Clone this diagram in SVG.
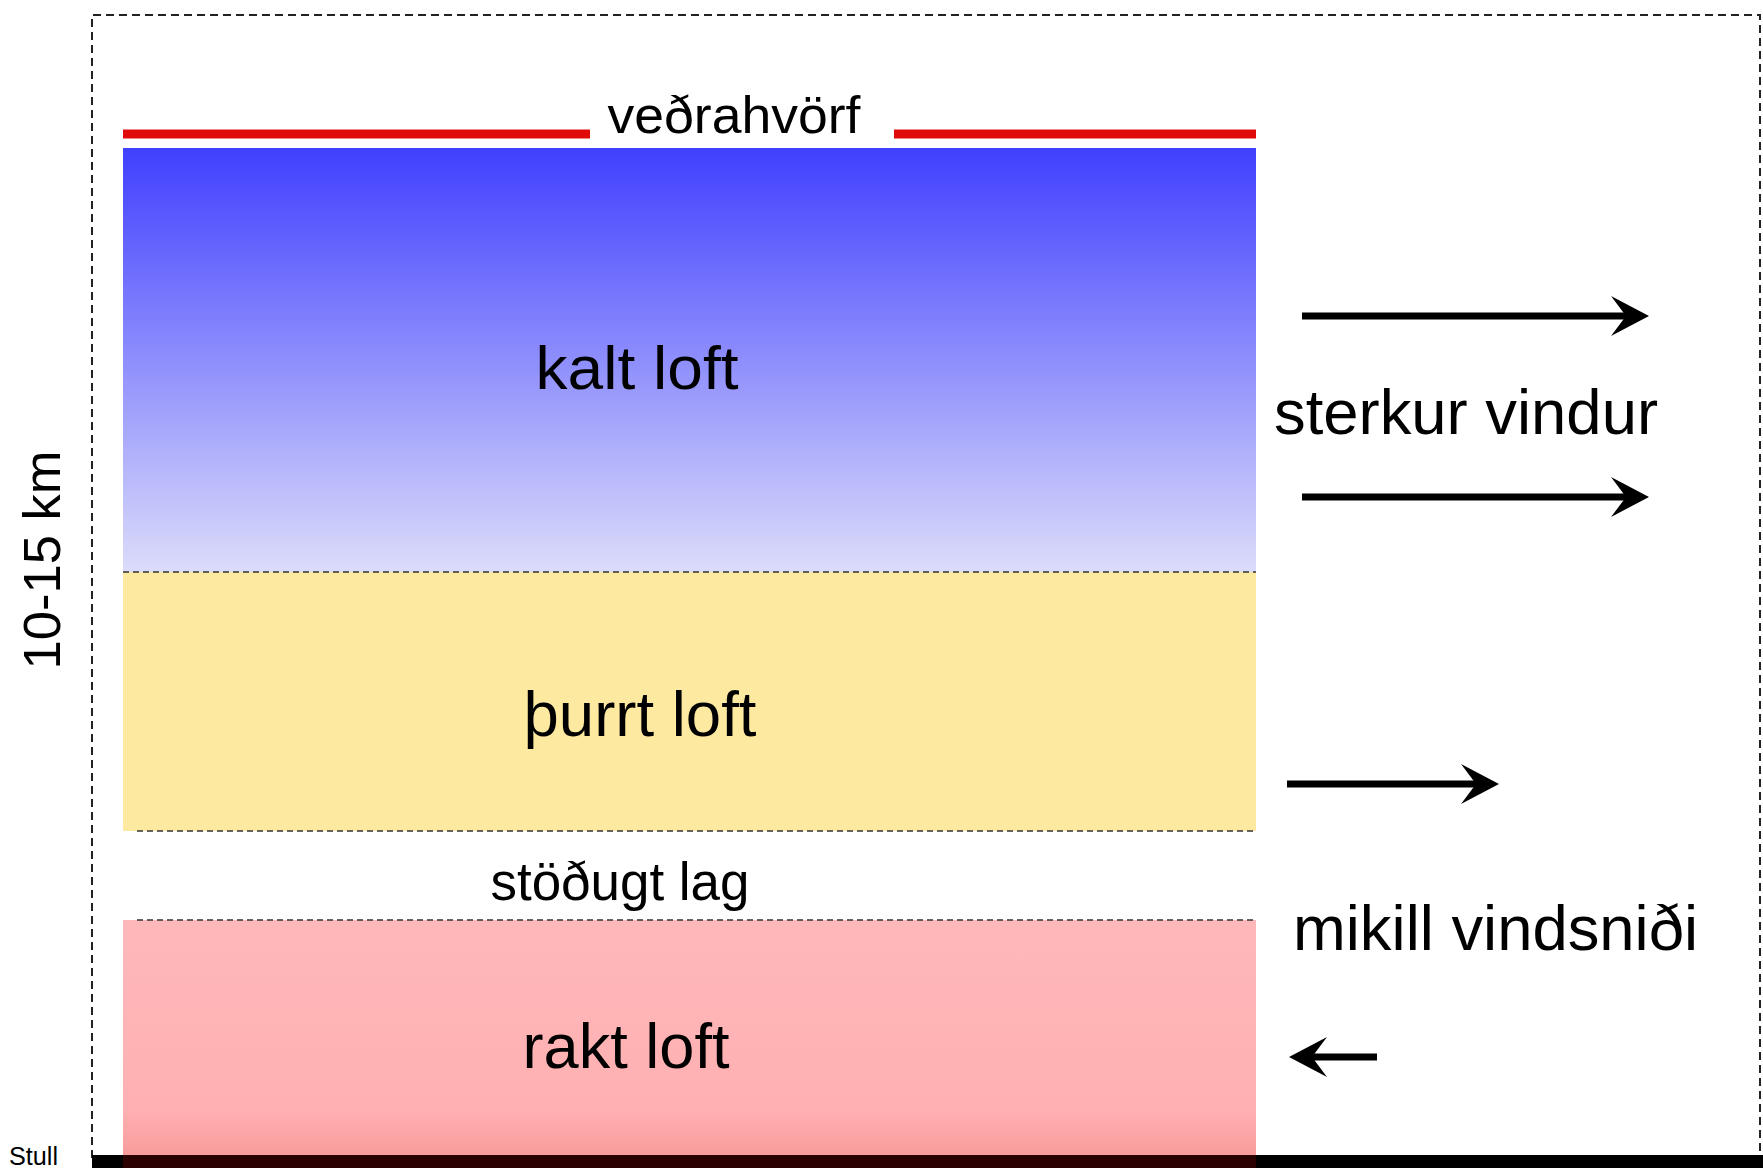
<svg xmlns="http://www.w3.org/2000/svg" width="1763" height="1168" viewBox="0 0 1763 1168">
<style>
text { font-family: "Liberation Sans", Arial, sans-serif; fill: #000; }
.frame { fill: none; stroke: #222; stroke-width: 2; stroke-dasharray: 8 5; }
.sep { fill: none; stroke: #333; stroke-width: 1.5; stroke-dasharray: 6 4; }
.shaft { stroke: #000; stroke-width: 7; fill: none; }
.head { fill: #000; }
.tropo { stroke: #e00a0a; stroke-width: 9; }
</style>
<defs>
<linearGradient id="gBlue" x1="0" y1="0" x2="0" y2="1">
<stop offset="0" stop-color="#4040ff"/>
<stop offset="1" stop-color="#dcdcfa"/>
</linearGradient>
<linearGradient id="gPink" x1="0" y1="0" x2="0" y2="1">
<stop offset="0" stop-color="#ffb8ba"/>
<stop offset="0.8" stop-color="#ffb0b2"/>
<stop offset="1" stop-color="#f89a9a"/>
</linearGradient>
</defs>
<rect width="1763" height="1168" fill="#fff"/>
<g id="frame">
<path class="frame" d="M92 1158 V15 H1760 V1158"/>
</g>
<g id="layer-cold">
<rect x="123" y="148" width="1133" height="424" fill="url(#gBlue)"/>
<text x="637" y="389" font-size="62" text-anchor="middle" textLength="203" lengthAdjust="spacingAndGlyphs">kalt loft</text>
</g>
<g id="layer-dry">
<rect x="123" y="572" width="1133" height="259" fill="#fde9a0"/>
<text x="640" y="736" font-size="63" text-anchor="middle" textLength="233" lengthAdjust="spacingAndGlyphs">þurrt loft</text>
</g>
<g id="layer-stable">
<text x="620" y="900" font-size="53" text-anchor="middle" textLength="259" lengthAdjust="spacingAndGlyphs">stöðugt lag</text>
</g>
<g id="layer-moist">
<rect x="123" y="920" width="1133" height="238" fill="url(#gPink)"/>
<text x="626" y="1068" font-size="63" text-anchor="middle" textLength="207" lengthAdjust="spacingAndGlyphs">rakt loft</text>
</g>
<g id="separators">
<line class="sep" x1="123" y1="572" x2="1256" y2="572"/>
<line class="sep" x1="137" y1="831" x2="1256" y2="831"/>
<line class="sep" x1="137" y1="920" x2="1256" y2="920"/>
</g>
<g id="tropopause">
<line class="tropo" x1="123" y1="134" x2="590" y2="134"/>
<line class="tropo" x1="894" y1="134" x2="1256" y2="134"/>
<text x="734" y="133" font-size="52" text-anchor="middle" textLength="253" lengthAdjust="spacingAndGlyphs">veðrahvörf</text>
</g>
<g id="ground">
<rect x="92" y="1155" width="1671" height="13" fill="#000"/>
<rect x="123" y="1155" width="1133" height="13" fill="#2a0000"/>
<text x="9" y="1165" font-size="25" textLength="49" lengthAdjust="spacingAndGlyphs">Stull</text>
</g>
<g id="height-label">
<text transform="translate(60 560) rotate(-90)" font-size="52" text-anchor="middle" textLength="219" lengthAdjust="spacingAndGlyphs">10-15 km</text>
</g>
<g id="wind-labels">
<text x="1274" y="434" font-size="63" textLength="384" lengthAdjust="spacingAndGlyphs">sterkur vindur</text>
<text x="1293" y="950" font-size="63" textLength="405" lengthAdjust="spacingAndGlyphs">mikill vindsniði</text>
</g>
<g id="connectors">
<g id="arrow1">
<line class="shaft" x1="1302" y1="316" x2="1630" y2="316"/>
<path class="head" d="M1649 316 L1611 296 L1626 316 L1611 336 Z"/>
</g>
<g id="arrow2">
<line class="shaft" x1="1302" y1="497" x2="1630" y2="497"/>
<path class="head" d="M1649 497 L1611 477 L1626 497 L1611 517 Z"/>
</g>
<g id="arrow3">
<line class="shaft" x1="1287" y1="784" x2="1480" y2="784"/>
<path class="head" d="M1499 784 L1461 764 L1476 784 L1461 804 Z"/>
</g>
<g id="arrow4">
<line class="shaft" x1="1377" y1="1057" x2="1308" y2="1057"/>
<path class="head" d="M1289 1057 L1327 1037 L1312 1057 L1327 1077 Z"/>
</g>
</g>
</svg>
